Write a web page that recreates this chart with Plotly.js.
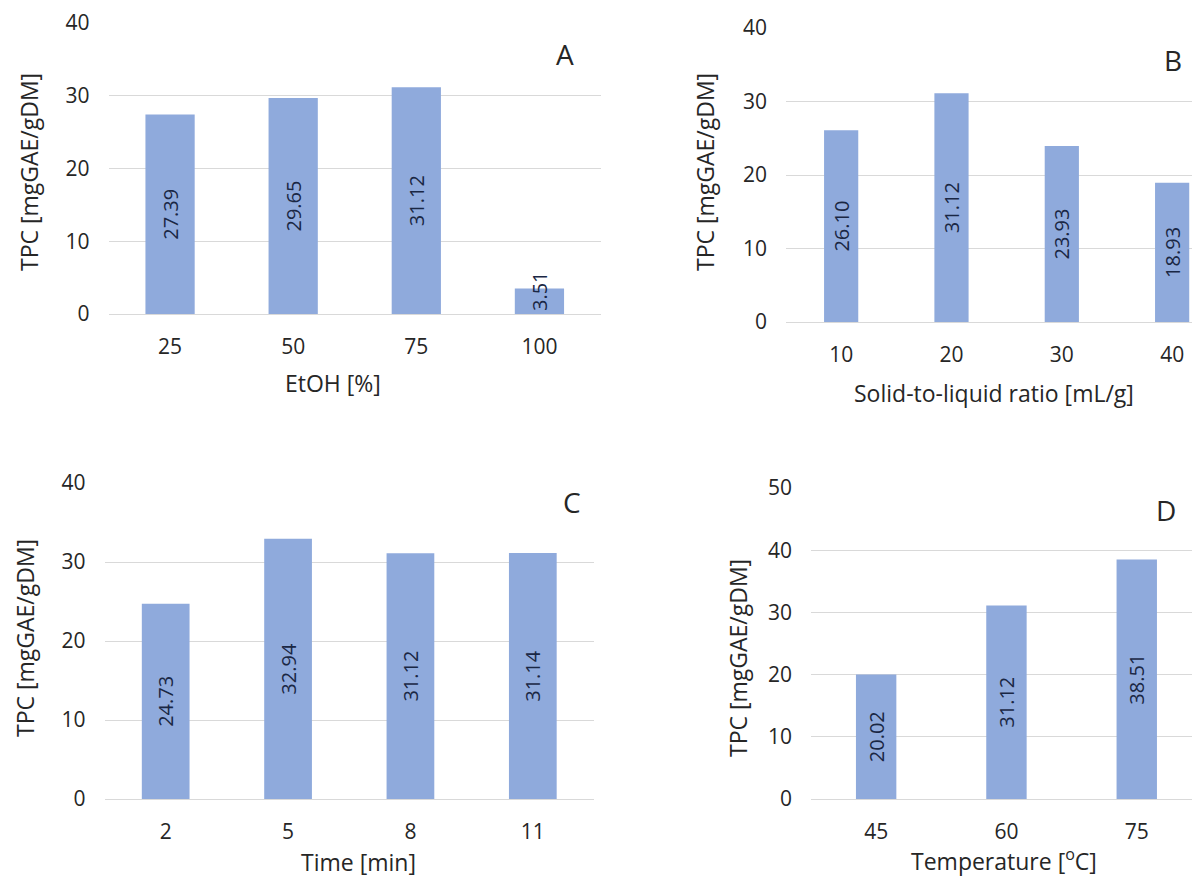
<!DOCTYPE html>
<html>
<head>
<meta charset="utf-8">
<script src="https://cdn.plot.ly/plotly-3.0.1.min.js"></script>
<style>
  html, body { margin: 0; padding: 0; background: #ffffff; }
  #chart { width: 1192px; height: 881px; }
</style>
</head>
<body>
<div id="chart"></div>
<script>
// ---- data ----
const ethanolPct = ['25', '50', '75', '100'];
const tpcEthanol = [27.39, 29.65, 31.12, 3.51];

const solidLiquid = ['10', '20', '30', '40'];
const tpcSolidLiquid = [26.10, 31.12, 23.93, 18.93];

const timeMin = ['2', '5', '8', '11'];
const tpcTime = [24.73, 32.94, 31.12, 31.14];

const temperatureC = ['45', '60', '75'];
const tpcTemperature = [20.02, 31.12, 38.51];

const yTitle = 'TPC [mgGAE/gDM]';

// ---- styles ----
const FONT = '"Open Sans", "Noto Sans", sans-serif';
const BAR = '#8faadc';
const GRID = '#d9d9d9';
const LABEL = '#1a2744';
const TICK = '#262626';

function barTraces(cats, vals, xa, ya, width) {
  const big = { x: [], y: [], t: [] };
  const small = { x: [], y: [], t: [] };
  cats.forEach((c, i) => {
    const tgt = vals[i] < 10 ? small : big;
    tgt.x.push(c); tgt.y.push(vals[i]); tgt.t.push(vals[i].toFixed(2));
  });
  const base = {
    type: 'bar', xaxis: xa, yaxis: ya, width: width,
    marker: { color: BAR, line: { width: 0 } },
    textposition: 'inside', textangle: -90, constraintext: 'none',
    textfont: { family: FONT, size: 20, color: LABEL },
    hoverinfo: 'x+y', showlegend: false, cliponaxis: false
  };
  const out = [Object.assign({}, base, { x: big.x, y: big.y, text: big.t, insidetextanchor: 'middle' })];
  if (small.x.length) {
    out.push(Object.assign({}, base, { x: small.x, y: small.y, text: small.t, insidetextanchor: 'start' }));
  }
  return out;
}

const data = [].concat(
  barTraces(ethanolPct, tpcEthanol, 'x', 'y', 0.40),
  barTraces(solidLiquid, tpcSolidLiquid, 'x2', 'y2', 0.31),
  barTraces(timeMin, tpcTime, 'x3', 'y3', 0.39),
  barTraces(temperatureC, tpcTemperature, 'x4', 'y4', 0.31)
);

const W = 1192, H = 881;
const px = v => v / W;
const py = v => (H - v) / H;

function xAxis(cats, d0, d1, r1, anchor) {
  return {
    type: 'category', categoryorder: 'array', categoryarray: cats,
    domain: [px(d0), Math.min(1, px(d1))], range: [-0.5, r1], anchor: anchor,
    showgrid: false, zeroline: false, showline: true, linecolor: GRID, linewidth: 1,
    ticks: '', ticklabelstandoff: 14, fixedrange: true,
    tickfont: { family: FONT, size: 21, color: TICK }
  };
}
function yAxis(top, bottom, rmax, anchor) {
  return {
    domain: [py(bottom), py(top)], range: [0, rmax], anchor: anchor, dtick: 10,
    showgrid: true, gridcolor: GRID, gridwidth: 1,
    zeroline: true, zerolinecolor: GRID, zerolinewidth: 1,
    showline: false, ticks: '', ticklabelstandoff: 18, fixedrange: true,
    tickfont: { family: FONT, size: 21, color: TICK }
  };
}

function ann(text, x, y, size, angle) {
  return {
    text: text, xref: 'paper', yref: 'paper', x: px(x), y: py(y),
    xanchor: 'center', yanchor: 'middle', showarrow: false,
    textangle: angle || 0,
    font: { family: FONT, size: size, color: TICK }
  };
}

const layout = {
  width: W, height: H,
  margin: { l: 0, r: 0, t: 0, b: 0 },
  paper_bgcolor: '#ffffff', plot_bgcolor: '#ffffff',
  barmode: 'overlay',
  showlegend: false,
  font: { family: FONT, color: TICK },
  xaxis: xAxis(ethanolPct, 108.5, 601, 3.5, 'y'),
  yaxis: yAxis(22.7, 314, 40, 'x'),
  xaxis2: xAxis(solidLiquid, 786, 1192, 3.18, 'y2'),
  yaxis2: yAxis(28, 322, 40, 'x2'),
  xaxis3: xAxis(timeMin, 104.5, 594, 3.5, 'y3'),
  yaxis3: yAxis(483, 799, 40, 'x3'),
  xaxis4: xAxis(temperatureC, 811, 1192, 2.424, 'y4'),
  yaxis4: yAxis(488, 799, 50, 'x4'),
  annotations: [
    ann('EtOH [%]', 333, 383, 23),
    ann(yTitle, 29, 172, 23, -90),
    ann('Solid-to-liquid ratio [mL/g]', 994, 393, 23),
    ann(yTitle, 705, 172, 23, -90),
    ann('Time [min]', 358, 862, 23),
    ann(yTitle, 25, 638, 23, -90),
    ann('Temperature [<sup>o</sup>C]', 1004, 860, 23),
    ann(yTitle, 738, 658, 23, -90),
    ann('A', 565, 54, 28),
    ann('B', 1173, 60, 28),
    ann('C', 572, 502, 28),
    ann('D', 1166, 510, 28)
  ]
};

Plotly.newPlot('chart', data, layout, { staticPlot: true, displayModeBar: false });
</script>
</body>
</html>
